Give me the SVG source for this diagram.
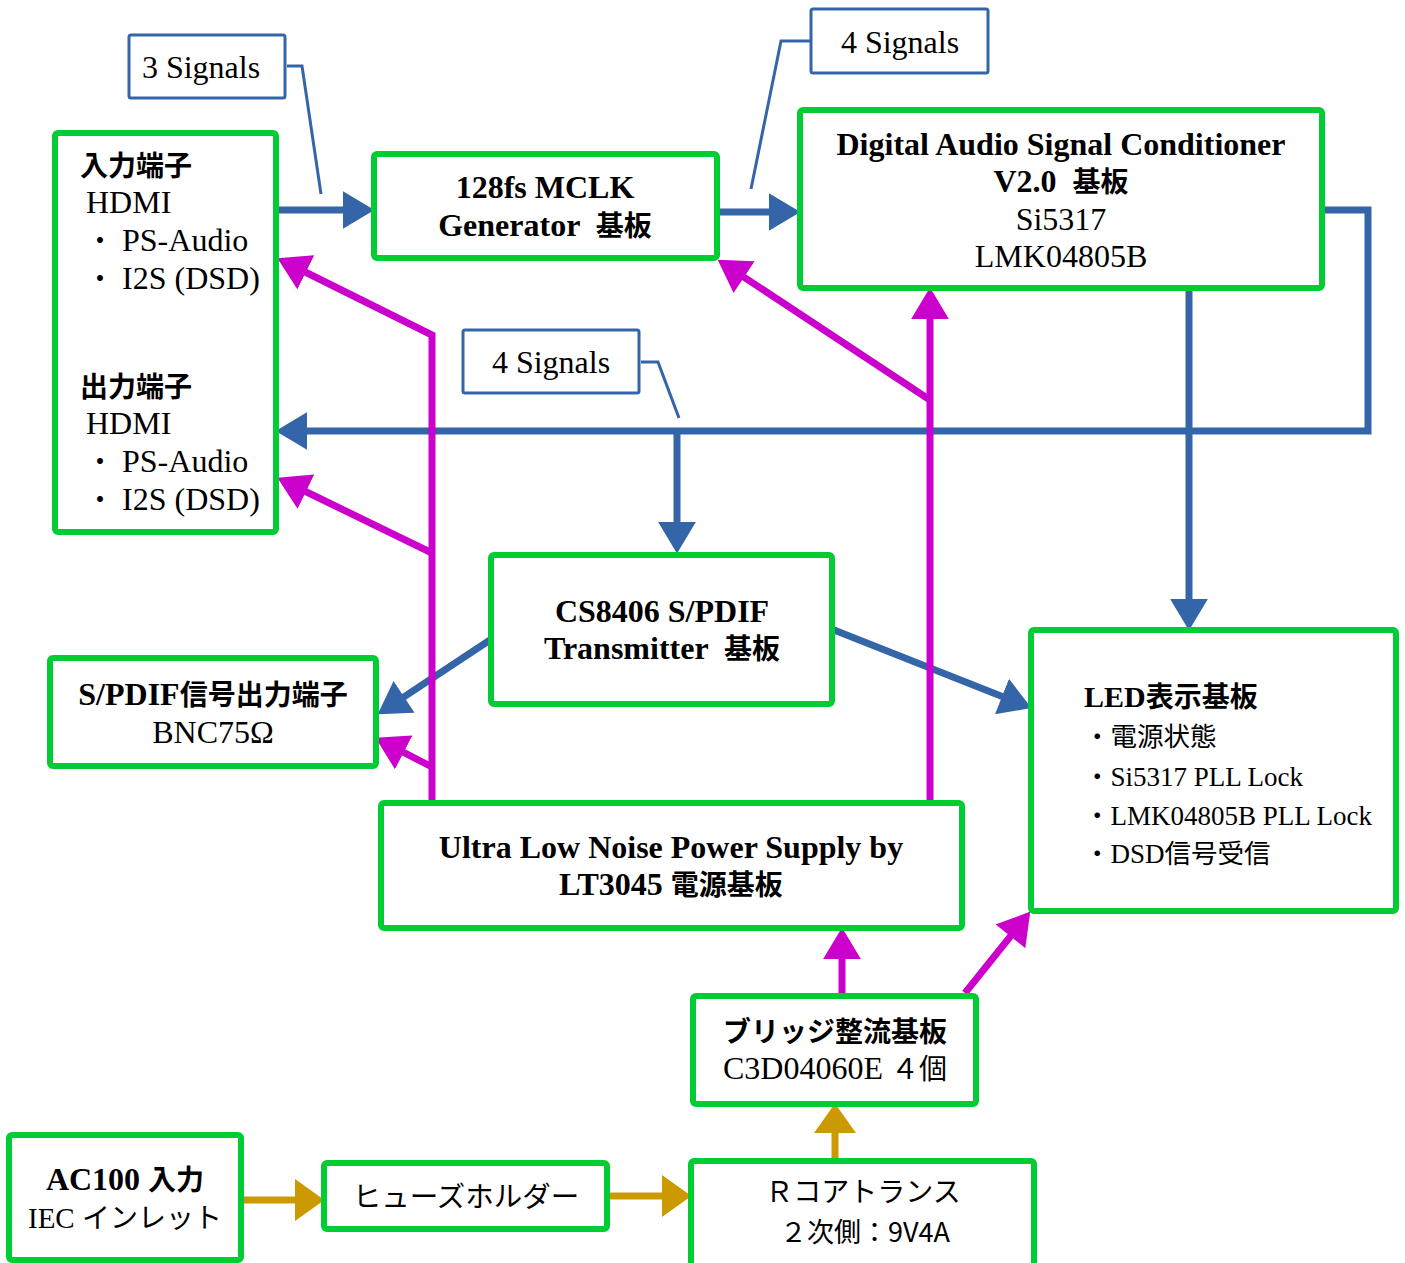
<svg xmlns="http://www.w3.org/2000/svg" width="1405" height="1263" viewBox="0 0 1405 1263">
<defs>
<style>
.box{fill:#fff;stroke:#00CC33;stroke-width:6;}
.call{fill:#fff;stroke:#3465A8;stroke-width:3;}
.lead{fill:none;stroke:#3465A8;stroke-width:3;}
.b{fill:none;stroke:#3465A8;stroke-width:7;}
.m{fill:none;stroke:#CC00CC;stroke-width:7;}
.g{fill:none;stroke:#CC9900;stroke-width:7;}
text{font-family:"Liberation Serif","Noto Sans CJK JP",serif;font-size:32px;fill:#000;white-space:pre;}
.bd{font-weight:bold;}
.c{text-anchor:middle;}
.j{font-size:28px;}
.s{font-family:"Noto Sans CJK JP","Liberation Sans",sans-serif;font-size:28px;}
.sm{font-size:27px;}
.sj{font-size:26.5px;}
</style>
<marker id="ab" markerUnits="userSpaceOnUse" markerWidth="32" markerHeight="38" refX="22" refY="18" orient="auto" viewBox="0 0 30 36"><path d="M0,0 L30,18 L0,36 z" fill="#3465A8"/></marker>
<marker id="am" markerUnits="userSpaceOnUse" markerWidth="32" markerHeight="38" refX="22" refY="18" orient="auto" viewBox="0 0 30 36"><path d="M0,0 L30,18 L0,36 z" fill="#CC00CC"/></marker>
<marker id="ag" markerUnits="userSpaceOnUse" markerWidth="30" markerHeight="42" refX="20" refY="20" orient="auto" viewBox="0 0 28 40"><path d="M0,0 L28,20 L0,40 z" fill="#CC9900"/></marker>
</defs>

<g id="connectors">
<path class="b" d="M278,210 H366" marker-end="url(#ab)"/>
<path class="b" d="M717,212 H792" marker-end="url(#ab)"/>
<path class="b" d="M1322,210 H1368 V431 H284" marker-end="url(#ab)"/>
<path class="b" d="M677,431 V545" marker-end="url(#ab)"/>
<path class="b" d="M1189,288 V622" marker-end="url(#ab)"/>
<path class="b" d="M490,640 L384.7,709.6" marker-end="url(#ab)"/>
<path class="b" d="M834,630 L1023.6,705" marker-end="url(#ab)"/>
<path class="m" d="M432,803 V335 L285,262" marker-end="url(#am)"/>
<path class="m" d="M432,553 L285,481.5" marker-end="url(#am)"/>
<path class="m" d="M432,767 L383,741.7" marker-end="url(#am)"/>
<path class="m" d="M930,803 V296" marker-end="url(#am)"/>
<path class="m" d="M930,400 L724.7,264.4" marker-end="url(#am)"/>
<path class="m" d="M842,996 V936" marker-end="url(#am)"/>
<path class="m" d="M965,993 L1025,918.2" marker-end="url(#am)"/>
<path class="g" d="M241,1200 H316" marker-end="url(#ag)"/>
<path class="g" d="M607,1196 H683" marker-end="url(#ag)"/>
<path class="g" d="M835,1161 V1112" marker-end="url(#ag)"/>
<path class="lead" d="M287,66 H302 L321,194"/>
<path class="lead" d="M810,41 H781 L751,189"/>
<path class="lead" d="M641,362 H658 L679,418"/>
</g>

<g id="callout-3signals">
<rect class="call" x="129" y="35" width="156" height="63" rx="2"/>
<text x="201" y="78" class="c">3 Signals</text>
</g>
<g id="callout-4signals-top">
<rect class="call" x="811" y="9" width="177" height="64" rx="2"/>
<text x="900" y="53" class="c">4 Signals</text>
</g>
<g id="callout-4signals-mid">
<rect class="call" x="463" y="330" width="176" height="63" rx="2"/>
<text x="551" y="373" class="c">4 Signals</text>
</g>

<g id="node-io">
<rect class="box" x="55" y="133" width="221" height="399" rx="3"/>
<text x="80" y="176" class="bd j">入力端子</text>
<text x="86" y="213">HDMI</text>
<text x="86" y="251"><tspan class="j">・</tspan> PS-Audio</text>
<text x="86" y="289"><tspan class="j">・</tspan> I2S (DSD)</text>
<text x="80" y="397" class="bd j">出力端子</text>
<text x="86" y="434">HDMI</text>
<text x="86" y="472"><tspan class="j">・</tspan> PS-Audio</text>
<text x="86" y="510"><tspan class="j">・</tspan> I2S (DSD)</text>
</g>

<g id="node-mclk">
<rect class="box" x="374" y="154" width="343" height="104" rx="3"/>
<text x="545" y="198" class="bd c">128fs MCLK</text>
<text x="545" y="236" class="bd c">Generator  <tspan class="j">基板</tspan></text>
</g>

<g id="node-dasc">
<rect class="box" x="800" y="110" width="522" height="178" rx="3"/>
<text x="1061" y="155" class="bd c">Digital Audio Signal Conditioner</text>
<text x="1061" y="192" class="bd c">V2.0  <tspan class="j">基板</tspan></text>
<text x="1061" y="230" class="c">Si5317</text>
<text x="1061" y="267" class="c">LMK04805B</text>
</g>

<g id="node-cs8406">
<rect class="box" x="491" y="555" width="341" height="149" rx="3"/>
<text x="662" y="622" class="bd c">CS8406 S/PDIF</text>
<text x="662" y="659" class="bd c">Transmitter  <tspan class="j">基板</tspan></text>
</g>

<g id="node-spdif">
<rect class="box" x="50" y="658" width="326" height="108" rx="3"/>
<text x="213" y="705" class="bd c">S/PDIF<tspan class="j">信号出力端子</tspan></text>
<text x="213" y="743" class="c">BNC75Ω</text>
</g>

<g id="node-led">
<rect class="box" x="1031" y="630" width="365" height="281" rx="3"/>
<text x="1084" y="707" class="bd" style="font-size:30px">LED<tspan class="j">表示基板</tspan></text>
<text x="1084" y="746" class="sj">・電源状態</text>
<text x="1084" y="786" class="sm"><tspan class="sj">・</tspan>Si5317 PLL Lock</text>
<text x="1084" y="825" class="sm"><tspan class="sj">・</tspan>LMK04805B PLL Lock</text>
<text x="1084" y="863" class="sm"><tspan class="sj">・</tspan>DSD<tspan class="sj">信号受信</tspan></text>
</g>

<g id="node-power">
<rect class="box" x="381" y="803" width="581" height="125" rx="3"/>
<text x="671" y="858" class="bd c">Ultra Low Noise Power Supply by</text>
<text x="671" y="895" class="bd c">LT3045 <tspan class="j">電源基板</tspan></text>
</g>

<g id="node-bridge">
<rect class="box" x="693" y="996" width="283" height="108" rx="3"/>
<text x="835" y="1042" class="s bd c">ブリッジ整流基板</text>
<text x="835" y="1079" class="c">C3D04060E <tspan class="j">４個</tspan></text>
</g>

<g id="node-ac">
<rect class="box" x="9" y="1135" width="232" height="125" rx="3"/>
<text x="125" y="1190" class="bd c">AC100 <tspan class="j">入力</tspan></text>
<text x="125" y="1228" class="c" style="font-size:29px">IEC <tspan class="j">インレット</tspan></text>
</g>

<g id="node-fuse">
<rect class="box" x="324" y="1163" width="283" height="66" rx="3"/>
<text x="466" y="1207" class="s c" style="font-size:28.5px">ヒューズホルダー</text>
</g>

<g id="node-rcore">
<rect class="box" x="691" y="1161" width="343" height="105" rx="3"/>
<text x="863" y="1202" class="s c">Ｒコアトランス</text>
<text x="865" y="1242" class="s c" style="font-size:27px">２次側：9V4A</text>
</g>
</svg>
